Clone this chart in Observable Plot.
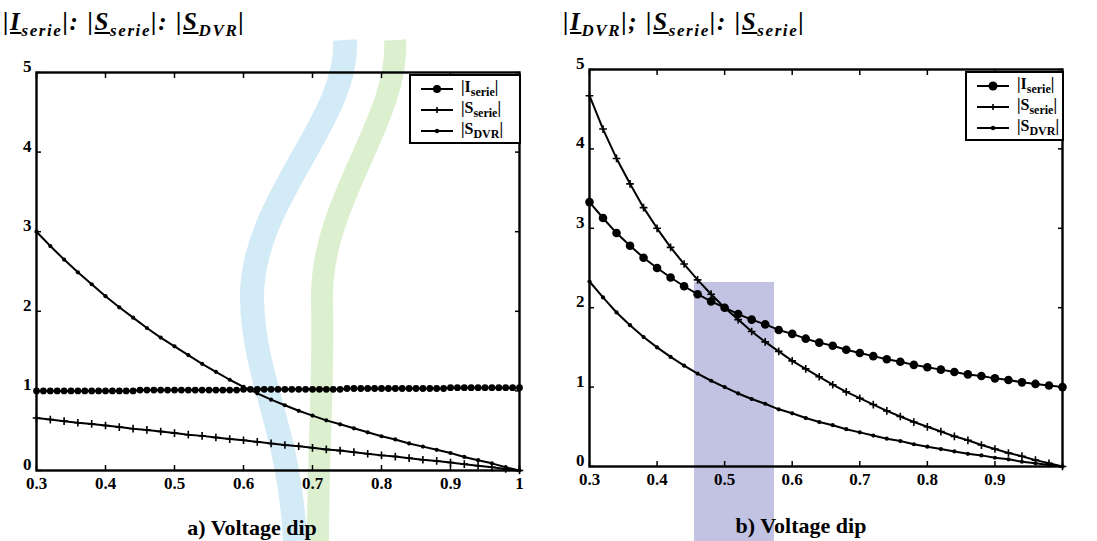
<!DOCTYPE html>
<html>
<head>
<meta charset="utf-8">
<script src="https://cdn.jsdelivr.net/npm/d3@7"></script>
<script src="https://cdn.jsdelivr.net/npm/@observablehq/plot@0.6"></script>
<style>
  html, body { margin: 0; padding: 0; background: #fff; }
  body { width: 1097px; height: 541px; overflow: hidden; position: relative;
         font-family: "Liberation Serif", "DejaVu Serif", serif; color: #000; }
  .abs { position: absolute; }
  .bg { position: absolute; left: 0; top: 0; z-index: 0; }
  .plot { z-index: 1; }
  .title { font-weight: bold; font-style: italic; font-size: 25px; letter-spacing: 1.6px; white-space: nowrap; z-index: 2; }
  .title sub { font-size: 17px; }
  .caption { font-weight: bold; font-size: 22px; white-space: nowrap; transform: translateX(-50%); z-index: 2; }
  .legend { border: 2px solid #000; background: #fff; box-sizing: border-box; z-index: 2; }
  .entry { position: absolute; left: 0; height: 20px; display: flex; align-items: center;
           font-weight: bold; font-size: 16px; white-space: nowrap; }
  .entry sub { font-size: 12px; }
  .entry svg { margin-right: 6px; }
</style>
</head>
<body>
<script>
// ---------- data ----------
const dipStep = [0.30,0.32,0.34,0.36,0.38,0.40,0.42,0.44,0.46,0.48,0.50,0.52,0.54,0.56,0.58,0.60,0.62,0.64,0.66,0.68,0.70,0.72,0.74,0.76,0.78,0.80,0.82,0.84,0.86,0.88,0.90,0.92,0.94,0.96,0.98,1.00];
const dipFine = [0.30,0.31,0.32,0.33,0.34,0.35,0.36,0.37,0.38,0.39,0.40,0.41,0.42,0.43,0.44,0.45,0.46,0.47,0.48,0.49,0.50,0.51,0.52,0.53,0.54,0.55,0.56,0.57,0.58,0.59,0.60,0.61,0.62,0.63,0.64,0.65,0.66,0.67,0.68,0.69,0.70,0.71,0.72,0.73,0.74,0.75,0.76,0.77,0.78,0.79,0.80,0.81,0.82,0.83,0.84,0.85,0.86,0.87,0.88,0.89,0.90,0.91,0.92,0.93,0.94,0.95,0.96,0.97,0.98,0.99,1.00];

// panel a)
const aISerie = [1.00,1.00,1.00,1.00,1.00,1.00,1.00,1.00,1.00,1.00,1.00,1.00,1.00,1.00,1.00,
                 1.01,1.01,1.01,1.01,1.01,1.01,1.01,1.01,1.01,1.01,1.01,1.01,1.01,1.01,1.01,
                 1.02,1.02,1.02,1.02,1.02,1.02,1.02,1.02,1.02,1.02,1.02,1.02,1.02,1.02,1.02,
                 1.03,1.03,1.03,1.03,1.03,1.03,1.03,1.03,1.03,1.03,1.03,1.03,1.03,1.03,1.03,
                 1.04,1.04,1.04,1.04,1.04,1.04,1.04,1.04,1.04,1.04,1.04];
const aSSerie = [0.66,0.64,0.62,0.60,0.585,0.565,0.545,0.525,0.51,0.49,0.47,0.45,0.435,0.415,0.395,0.38,0.36,0.34,0.32,0.305,0.285,0.265,0.25,0.23,0.21,0.19,0.175,0.155,0.135,0.12,0.10,0.08,0.06,0.04,0.02,0.00];
const aSDVR = [3.00,2.82,2.65,2.49,2.34,2.19,2.05,1.92,1.79,1.67,1.56,1.45,1.34,1.24,1.14,1.05,0.97,0.89,0.82,0.75,0.69,0.63,0.58,0.53,0.48,0.43,0.39,0.34,0.30,0.26,0.22,0.17,0.13,0.09,0.04,0.00];

// panel b)
const bISerie = [3.33,3.13,2.94,2.78,2.63,2.50,2.38,2.27,2.17,2.08,2.00,1.92,1.85,1.79,1.72,1.67,1.61,1.56,1.52,1.47,1.43,1.39,1.35,1.32,1.28,1.25,1.22,1.19,1.16,1.14,1.11,1.09,1.06,1.04,1.02,1.00];
const bSSerie = [4.67,4.25,3.88,3.56,3.26,3.00,2.76,2.55,2.35,2.17,2.00,1.85,1.70,1.57,1.45,1.33,1.23,1.13,1.03,0.94,0.86,0.78,0.70,0.63,0.56,0.50,0.44,0.38,0.33,0.27,0.22,0.17,0.13,0.08,0.04,0.00];
const bSDVR = [2.33,2.13,1.94,1.78,1.63,1.50,1.38,1.27,1.17,1.08,1.00,0.92,0.85,0.79,0.72,0.67,0.61,0.56,0.52,0.47,0.43,0.39,0.35,0.32,0.28,0.25,0.22,0.19,0.16,0.14,0.11,0.09,0.06,0.04,0.02,0.00];

// ticks & labels
const xTicksA = [0.3,0.4,0.5,0.6,0.7,0.8,0.9,1.0];
const xTicksB = [0.3,0.4,0.5,0.6,0.7,0.8,0.9];
const yTicks = [0,1,2,3,4,5];
const titleA = '|<u>I</u><sub>serie</sub>|: |<u>S</u><sub>serie</sub>|: |<u>S</u><sub>DVR</sub>|';
const titleB = '|<u>I</u><sub>DVR</sub>|; |<u>S</u><sub>serie</sub>|: |<u>S</u><sub>serie</sub>|';
const captionA = 'a) Voltage dip';
const captionB = 'b) Voltage dip';
const legendLabels = ['|I<sub>serie</sub>|', '|S<sub>serie</sub>|', '|S<sub>DVR</sub>|'];

// ---------- helpers ----------
const rows = (xs, ys) => xs.map((x, i) => ({x, y: ys[i]}));
const fmtX = d => d === 1 ? "1" : d.toFixed(1);
const fmtY = d => String(d);
const none = () => "";

function panel({width, height, mt, mb, ml, mr, xTicks, iData, sData, dData, iR}) {
  return Plot.plot({
    width, height, marginTop: mt, marginBottom: mb, marginLeft: ml, marginRight: mr,
    x: {domain: [0.3, 1.0]},
    y: {domain: [0, 5]},
    style: {fontFamily: '"Liberation Serif", serif', fontWeight: "bold", fontSize: "17px", color: "#000", background: "transparent", overflow: "visible"},
    marks: [
      // inward ticks on all four sides
      Plot.axisX(xTicks, {anchor: "bottom", tickSize: -5, tickFormat: none, strokeWidth: 1.5, label: null}),
      Plot.axisX(xTicks, {anchor: "top", tickSize: -5, tickFormat: none, strokeWidth: 1.5, label: null}),
      Plot.axisY(yTicks, {anchor: "left", tickSize: -5, tickFormat: none, strokeWidth: 1.5, label: null}),
      Plot.axisY(yTicks, {anchor: "right", tickSize: -5, tickFormat: none, strokeWidth: 1.5, label: null}),
      // tick labels
      Plot.axisX(xTicks, {anchor: "bottom", tickSize: 0, tickPadding: 6, tickFormat: fmtX, label: null}),
      Plot.axisY(yTicks, {anchor: "left", tickSize: 0, tickPadding: 5, dy: -6, tickFormat: fmtY, label: null}),
      // series
      Plot.line(sData, {x: "x", y: "y", stroke: "#000", strokeWidth: 2}),
      Plot.dot(sData, {x: "x", y: "y", symbol: "plus", r: 2.6, stroke: "#000", strokeWidth: 1.6}),
      Plot.line(dData, {x: "x", y: "y", stroke: "#000", strokeWidth: 2}),
      Plot.dot(dData, {x: "x", y: "y", r: 2.1, fill: "#000"}),
      Plot.line(iData, {x: "x", y: "y", stroke: "#000", strokeWidth: 2}),
      Plot.dot(iData, {x: "x", y: "y", r: iR, fill: "#000"}),
      Plot.frame({stroke: "#000", strokeWidth: 2.4})
    ]
  });
}

function place(el, left, top, cls) {
  el.classList.add("abs");
  if (cls) el.classList.add(cls);
  el.style.left = left + "px";
  el.style.top = top + "px";
  document.body.appendChild(el);
  return el;
}

function textDiv(cls, html, left, top) {
  const d = document.createElement("div");
  d.className = cls;
  d.innerHTML = html;
  return place(d, left, top);
}

function swatch(kind, r) {
  const w = 36, h = 12, c = w / 2, m = h / 2;
  let mk = "";
  if (kind === 0) mk = `<circle cx="${c}" cy="${m}" r="${r}" fill="#000"/>`;
  if (kind === 1) mk = `<path d="M${c-3},${m}H${c+3}M${c},${m-3}V${m+3}" stroke="#000" stroke-width="1.6"/>`;
  if (kind === 2) mk = `<circle cx="${c}" cy="${m}" r="2.2" fill="#000"/>`;
  return `<svg width="${w}" height="${h}"><line x1="2" y1="${m}" x2="${w-2}" y2="${m}" stroke="#000" stroke-width="2"/>${mk}</svg>`;
}

function legend(left, top, width, iR) {
  const box = document.createElement("div");
  box.className = "legend";
  box.style.width = width + "px";
  box.style.height = "70px";
  legendLabels.forEach((lab, k) => {
    const e = document.createElement("div");
    e.className = "entry";
    e.style.top = (3 + k * 21) + "px";
    e.style.left = "8px";
    e.innerHTML = swatch(k, iR) + `<span>${lab}</span>`;
    box.appendChild(e);
  });
  return place(box, left, top);
}

// ---------- faint background print (watermark colours) ----------
const bg = document.createElementNS("http://www.w3.org/2000/svg", "svg");
bg.setAttribute("width", 1097); bg.setAttribute("height", 541);
bg.setAttribute("class", "bg");
bg.innerHTML = `
  <path d="M345,40 C350,120 250,200 252,300 C254,380 290,430 295,541" fill="none" stroke="#d3ebf7" stroke-width="24"/>
  <path d="M395,40 C400,120 320,200 322,300 C324,380 318,450 318,541" fill="none" stroke="#dcf0cf" stroke-width="22"/>
  <rect x="694" y="282" width="80" height="259" fill="#c2c2e2"/>`;
document.body.appendChild(bg);

// ---------- panel a ----------
const plotA = panel({width: 545, height: 460, mt: 32, mb: 30, ml: 36, mr: 26, xTicks: xTicksA,
  iData: rows(dipFine, aISerie), sData: rows(dipStep, aSSerie), dData: rows(dipStep, aSDVR), iR: 3.4});
place(plotA, 0, 40, "plot");

// ---------- panel b ----------
const plotB = panel({width: 552, height: 457, mt: 29, mb: 31, ml: 44, mr: 35, xTicks: xTicksB,
  iData: rows(dipStep, bISerie), sData: rows(dipStep, bSSerie), dData: rows(dipStep, bSDVR), iR: 4.3});
place(plotB, 545, 40, "plot");

legend(409, 74, 112, 4);
legend(965, 71, 99, 4.5);

textDiv("title", titleA, 3, 8);
textDiv("title", titleB, 563, 8);
textDiv("caption", captionA, 252, 515);
textDiv("caption", captionB, 801, 513);
</script>
</body>
</html>
